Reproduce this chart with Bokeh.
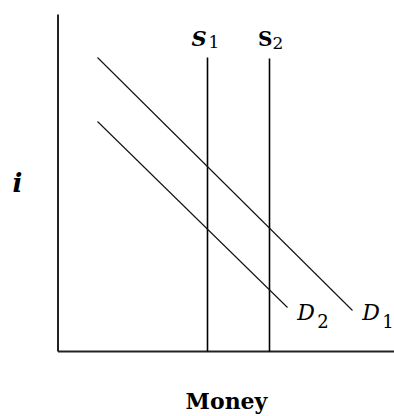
from bokeh.plotting import figure
from bokeh.models import Range1d
from bokeh.core.properties import value
from bokeh.embed import file_html
from bokeh.resources import INLINE

# ---- data (Money on x, interest rate i on y; arbitrary units) ----
supply_names = ["S1", "S2"]
supply_money = [14.95, 21.15]
supply_top_i = [29.4, 29.3]

demand_names = ["D1", "D2"]
d1_money = [3.95, 29.45]
d1_i = [29.4, 4.1]
d2_money = [3.95, 22.95]
d2_i = [23.0, 4.4]

x_label = "Money"
y_label = "i"

FONT = value("DejaVu Serif")

p = figure(width=394, height=416, x_range=Range1d(-5.75, 33.65), y_range=Range1d(-6.5, 35.1),
           x_axis_type=None, y_axis_type=None, min_border=0, outline_line_color=None,
           toolbar_location=None, output_backend="svg")
p.grid.visible = False

# axes drawn as lines
p.segment(x0=[0, 0], y0=[0, 0], x1=[0, 33.65], y1=[33.7, 0], line_color="#222222", line_width=2)

# supply curves (vertical)
p.segment(x0=supply_money, y0=[0, 0], x1=supply_money, y1=supply_top_i, line_color="black", line_width=1.6)

# demand curves
p.line(d1_money, d1_i, line_color="#111111", line_width=1.1)
p.line(d2_money, d2_i, line_color="#111111", line_width=1.1)

# supply labels: main letter + subscript
p.text(x=[13.35], y=[31.3], text=["S"], text_font=FONT, text_font_size="21px",
       text_font_style="bold italic", text_baseline="alphabetic", text_align="left", text_color="black")
p.text(x=[15.05], y=[31.0], text=["1"], text_font=FONT, text_font_size="17px",
       text_font_style="normal", text_baseline="alphabetic", text_align="left", text_color="black")
p.text(x=[20.0], y=[31.3], text=["S"], text_font=FONT, text_font_size="20px",
       text_font_style="bold", text_baseline="alphabetic", text_align="left", text_color="black")
p.text(x=[21.45], y=[30.85], text=["2"], text_font=FONT, text_font_size="17px",
       text_font_style="normal", text_baseline="alphabetic", text_align="left", text_color="black")

# demand labels
p.text(x=[23.92, 30.42], y=[3.95, 3.95], text=["D", "D"], text_font=FONT, text_font_size="22px",
       text_font_style="italic", text_baseline="alphabetic", text_align="left", text_color="black")
p.text(x=[25.92, 32.42], y=[3.1, 3.1], text=["2", "1"], text_font=FONT, text_font_size="18px",
       text_font_style="normal", text_baseline="alphabetic", text_align="left", text_color="black")

# axis labels
p.text(x=[-4.05], y=[16.9], text=[y_label], text_font=FONT, text_font_size="26px",
       text_font_style="bold italic", text_baseline="alphabetic", text_align="center", text_color="black")
p.text(x=[16.85], y=[-4.9], text=[x_label], text_font=FONT, text_font_size="22px",
       text_font_style="bold", text_baseline="alphabetic", text_align="center", text_color="black")

open("out.html", "w").write(file_html(p, INLINE))
